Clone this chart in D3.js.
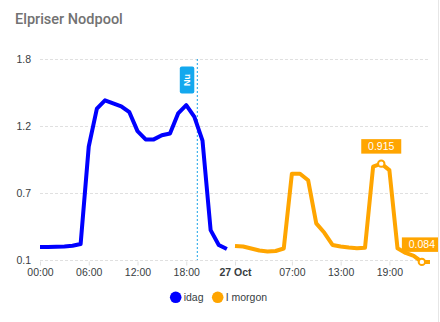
<!DOCTYPE html>
<html><head><meta charset="utf-8">
<script src="https://cdn.jsdelivr.net/npm/d3@7"></script>
<style>
html,body{margin:0;padding:0;background:#fff;}
svg{display:block;}
</style></head>
<body>
<svg id="chart" width="440" height="322"></svg>
<script>
// ---- data ----
const title = "Elpriser Nodpool";
const seriesNames = ["idag", "I morgon"];
const seriesColors = ["#0000ff", "#ffa500"];
// hour offsets from 00:00 of "idag"
const todayHours = d3.range(0, 24);
const todayValues = [0.21, 0.21, 0.213, 0.215, 0.22, 0.235, 1.06, 1.38, 1.45, 1.425, 1.40, 1.35,
                     1.19, 1.12, 1.12, 1.155, 1.17, 1.34, 1.41, 1.31, 1.11, 0.353, 0.227, 0.193];
const tomorrowHours = d3.range(24, 48);
const tomorrowValues = [0.218, 0.214, 0.197, 0.18, 0.172, 0.176, 0.197, 0.83, 0.83, 0.775, 0.41, 0.33,
                        0.227, 0.214, 0.205, 0.20, 0.204, 0.89, 0.915, 0.86, 0.20, 0.16, 0.135, 0.084];
const xTickHours = [0, 6, 12, 18, 24, 31, 37, 43];
const xTickLabels = ["00:00", "06:00", "12:00", "18:00", "27 Oct", "07:00", "13:00", "19:00"];
const yTickLabels = ["0.1", "0.7", "1.2", "1.8"];
const yMin = 0.1, yMax = 1.8;
const nowHour = 19.36;
const nowLabel = "Nu";

// ---- layout ----
const svg = d3.select("#chart");
const font = "'Liberation Sans', Arial, Helvetica, sans-serif";
const x = d3.scaleLinear().domain([0, 48]).range([40, 430]);
const y = d3.scaleLinear().domain([yMin, yMax]).range([260, 59]);
const yTickValues = yTickLabels.map((d, i) => yMin + i * (yMax - yMin) / (yTickLabels.length - 1));

// card edge
svg.append("line").attr("x1", 438.5).attr("x2", 438.5).attr("y1", 0).attr("y2", 322)
  .attr("stroke", "#e6e6e6");

// title
svg.append("text").attr("x", 15).attr("y", 24).text(title)
  .attr("font-family", "Roboto, 'Noto Sans', sans-serif").attr("font-size", 14.5)
  .attr("font-weight", 500).attr("fill", "#727272");

// gridlines
svg.append("g").selectAll("line").data(yTickValues).join("line")
  .attr("x1", 40).attr("x2", 430)
  .attr("y1", d => Math.round(y(d)) + 0.5).attr("y2", d => Math.round(y(d)) + 0.5)
  .attr("stroke", "#e0e0e0").attr("stroke-dasharray", "3,2");

// y labels
svg.append("g").selectAll("text").data(yTickValues).join("text")
  .attr("x", 31).attr("y", d => y(d) + 3.5).attr("text-anchor", "end")
  .attr("font-family", font).attr("font-size", 10.5).attr("fill", "#373d3f")
  .text((d, i) => yTickLabels[i]);

// x axis ticks + labels
const xAxis = d3.axisBottom(x).tickValues(xTickHours).tickSize(5)
  .tickFormat((d, i) => xTickLabels[i]);
const gx = svg.append("g").attr("transform", "translate(0,260.5)").call(xAxis);
gx.select(".domain").remove();
gx.selectAll(".tick line").attr("stroke", "#e0e0e0").attr("y1", 1);
gx.selectAll(".tick text").attr("font-family", font).attr("font-size", 10.5)
  .attr("fill", "#373d3f").attr("y", 15).attr("dy", 0)
  .attr("font-weight", (d, i) => xTickLabels[i] === "27 Oct" ? "bold" : "normal");

// now annotation
const nx = x(nowHour);
svg.append("line").attr("x1", nx).attr("x2", nx).attr("y1", 59).attr("y2", 260)
  .attr("stroke", "#1aa3e8").attr("stroke-width", 1).attr("stroke-dasharray", "2,2");
svg.append("rect").attr("x", nx - 17.5).attr("y", 66.5).attr("width", 14.5).attr("height", 27)
  .attr("rx", 2).attr("fill", "#13a8ee");
svg.append("text").attr("transform", `translate(${nx - 10.3},80) rotate(-90)`)
  .attr("text-anchor", "middle").attr("dy", "0.35em")
  .attr("font-family", font).attr("font-size", 9).attr("font-weight", "bold")
  .attr("fill", "#fff").text(nowLabel);

// lines
const line = d3.line().x(d => x(d[0])).y(d => y(d[1]));
const todayPts = todayHours.map((h, i) => [h, todayValues[i]]);
const tomorrowPts = tomorrowHours.map((h, i) => [h, tomorrowValues[i]]);
// extend last value to end of the graph span
const tomorrowExt = tomorrowPts.concat([[x.domain()[1], tomorrowValues[tomorrowValues.length - 1]]]);

svg.append("path").attr("d", line(todayPts)).attr("fill", "none")
  .attr("stroke", seriesColors[0]).attr("stroke-width", 4)
  .attr("stroke-linejoin", "round").attr("stroke-linecap", "butt");
svg.append("path").attr("d", line(tomorrowExt)).attr("fill", "none")
  .attr("stroke", seriesColors[1]).attr("stroke-width", 4)
  .attr("stroke-linejoin", "round").attr("stroke-linecap", "butt");

// min / max annotations on tomorrow
const maxI = d3.maxIndex(tomorrowValues), minI = d3.minIndex(tomorrowValues);
const clip = svg.append("clipPath").attr("id", "cardclip").append("rect")
  .attr("x", 0).attr("y", 0).attr("width", 438).attr("height", 322);
[maxI, minI].forEach(i => {
  const px = x(tomorrowHours[i]), py = y(tomorrowValues[i]);
  const txt = d3.format(".3f")(tomorrowValues[i]);
  const g = svg.append("g").attr("clip-path", "url(#cardclip)");
  g.append("rect").attr("x", px - 20).attr("y", py - 24.5).attr("width", 40).attr("height", 14.5)
    .attr("fill", seriesColors[1]);
  g.append("text").attr("x", px).attr("y", py - 13.5).attr("text-anchor", "middle")
    .attr("font-family", font).attr("font-size", 10.5).attr("fill", "#fff").text(txt);
  svg.append("circle").attr("cx", px).attr("cy", py).attr("r", 3.2)
    .attr("fill", "#fff").attr("stroke", seriesColors[1]).attr("stroke-width", 2);
});

// legend
const legend = svg.append("g");
const legX = [175.7, 217.7];
seriesNames.forEach((n, i) => {
  legend.append("circle").attr("cx", legX[i]).attr("cy", 297.3).attr("r", 5.8).attr("fill", seriesColors[i]);
  legend.append("text").attr("x", legX[i] + 8).attr("y", 301).attr("font-family", font)
    .attr("font-size", 10.5).attr("fill", "#373d3f").text(n);
});
</script>
</body></html>
